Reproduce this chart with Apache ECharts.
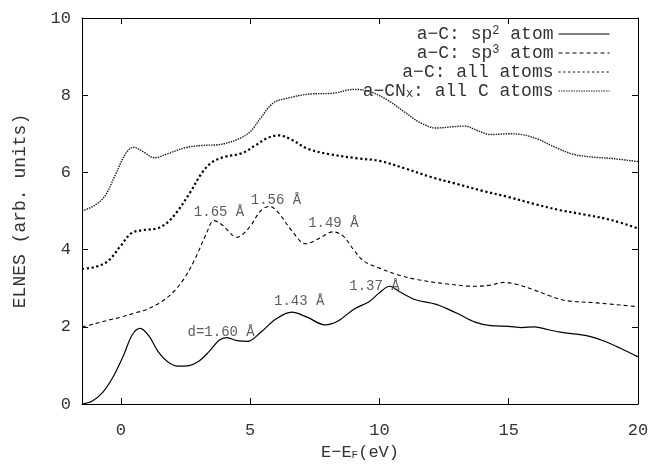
<!DOCTYPE html>
<html>
<head>
<meta charset="utf-8">
<script src="https://cdn.jsdelivr.net/npm/echarts@6/dist/echarts.min.js"></script>
<style>
  html, body { margin: 0; padding: 0; background: #fff; }
  #chart { width: 656px; height: 466px; }
</style>
</head>
<body>
<div id="chart"></div>
<script>
// curves, [E - EF (eV), ELNES]
const sp2Atom = [
    [-1.5, 0.0], [-1.1, 0.08], [-0.7, 0.3], [-0.3, 0.7], [0.1, 1.25], [0.45, 1.8],
    [0.75, 1.96], [1.1, 1.75], [1.45, 1.35], [1.8, 1.1], [2.2, 0.98], [2.6, 0.99],
    [3.0, 1.1], [3.4, 1.35], [3.8, 1.65], [4.1, 1.72], [4.5, 1.64], [4.9, 1.62],
    [5.4, 1.85], [6.0, 2.2], [6.6, 2.38], [7.2, 2.25], [7.9, 2.05], [8.4, 2.15],
    [9.0, 2.45], [9.6, 2.65], [10.0, 2.88], [10.4, 3.05], [10.8, 2.9], [11.4, 2.7],
    [12.2, 2.58], [13.0, 2.35], [13.7, 2.12], [14.3, 2.03], [15.0, 2.01], [15.5, 1.98],
    [16.0, 2.0], [16.5, 1.93], [17.0, 1.86], [18.0, 1.77], [18.6, 1.65], [19.3, 1.45],
    [20.0, 1.22]
];
const sp3Atom = [
    [-1.5, 2.0], [-1.0, 2.08], [-0.5, 2.17], [0.0, 2.25], [0.5, 2.35], [1.0, 2.45],
    [1.6, 2.66], [2.1, 2.95], [2.5, 3.3], [2.9, 3.8], [3.3, 4.4], [3.6, 4.75],
    [3.9, 4.65], [4.5, 4.32], [5.0, 4.6], [5.4, 5.0], [5.75, 5.12], [6.1, 4.95],
    [6.6, 4.5], [7.15, 4.15], [7.7, 4.3], [8.2, 4.46], [8.6, 4.35], [9.0, 4.0],
    [9.4, 3.7], [10.0, 3.52], [10.7, 3.35], [11.5, 3.22], [12.5, 3.12], [13.7, 3.05],
    [14.3, 3.08], [14.8, 3.15], [15.3, 3.1], [16.0, 2.95], [16.6, 2.8], [17.2, 2.68],
    [18.4, 2.62], [20.0, 2.52]
];
const allAtoms = [
    [-1.5, 3.5], [-1.0, 3.55], [-0.5, 3.7], [0.0, 4.1], [0.4, 4.42], [0.8, 4.5],
    [1.4, 4.55], [1.8, 4.7], [2.2, 5.0], [2.7, 5.5], [3.1, 5.95], [3.5, 6.25],
    [4.0, 6.4], [4.7, 6.5], [5.2, 6.7], [5.7, 6.9], [6.1, 6.96], [6.6, 6.85],
    [7.2, 6.62], [8.0, 6.48], [9.2, 6.36], [10.0, 6.3], [11.0, 6.1], [12.0, 5.88],
    [13.0, 5.7], [14.0, 5.52], [15.0, 5.36], [16.0, 5.18], [17.0, 5.02], [18.0, 4.9],
    [19.0, 4.76], [20.0, 4.55]
];
const cnxAllC = [
    [-1.5, 5.0], [-1.0, 5.15], [-0.6, 5.4], [-0.2, 5.95], [0.2, 6.5], [0.5, 6.65],
    [0.9, 6.52], [1.3, 6.38], [1.8, 6.48], [2.5, 6.64], [3.2, 6.7], [3.8, 6.72],
    [4.5, 6.85], [5.0, 7.05], [5.4, 7.4], [5.9, 7.8], [6.5, 7.93], [7.3, 8.03],
    [8.2, 8.05], [9.0, 8.15], [9.6, 8.1], [10.3, 7.88], [11.0, 7.55], [11.6, 7.28],
    [12.2, 7.15], [12.8, 7.18], [13.3, 7.2], [13.8, 7.08], [14.3, 6.98], [15.0, 7.0],
    [15.5, 6.98], [16.1, 6.87], [16.8, 6.65], [17.5, 6.47], [18.2, 6.4], [19.0, 6.36],
    [20.0, 6.28]
];

// bond length labels, placed in data coordinates
const bondLabels = ['d=1.60 Å', '1.43 Å', '1.37 Å', '1.65 Å', '1.56 Å', '1.49 Å'];
const bondLabelPos = [[3.88, 1.86], [6.9, 2.66], [9.81, 3.04], [3.8, 4.96], [6.0, 5.28], [8.22, 4.67]];

const seriesNames = ['sp2', 'sp3', 'all', 'cnx'];
const legendLabels = {
    sp2: 'a\u2212C: sp{sup|2} atom',
    sp3: 'a\u2212C: sp{sup|3} atom',
    all: 'a\u2212C: all atoms',
    cnx: 'a\u2212CN{sub|x}: all C atoms'
};
const xTicks = [0, 5, 10, 15, 20];

const FONT = '"Liberation Mono", "DejaVu Sans Mono", monospace';
const TEXT = '#333';

const chart = echarts.init(document.getElementById('chart'));

function curve(name, data, style) {
    return {
        name: name,
        type: 'line',
        data: data,
        smooth: 0.35,
        symbol: 'none',
        lineStyle: Object.assign({ color: '#000', width: 1.2 }, style),
        itemStyle: { color: '#000' },
        z: 3
    };
}

const frameAxis = {
    axisLine: { show: true, onZero: false, lineStyle: { color: '#000', width: 1 } },
    splitLine: { show: false }
};

const option = {
    animation: false,
    grid: { left: 82, right: 18, top: 18, bottom: 55 },
    legend: {
        data: seriesNames,
        orient: 'vertical',
        right: 41,
        top: 20,
        align: 'right',
        itemWidth: 51,
        itemHeight: 12,
        itemGap: 1,
        itemStyle: { opacity: 0 },
        lineStyle: { width: 1 },
        formatter: name => legendLabels[name],
        textStyle: {
            fontFamily: FONT, fontSize: 18, color: TEXT, lineHeight: 18,
            rich: {
                sup: { fontFamily: FONT, fontSize: 12, color: TEXT, verticalAlign: 'top', lineHeight: 12 },
                sub: { fontFamily: FONT, fontSize: 12, color: TEXT, verticalAlign: 'bottom', lineHeight: 12 }
            }
        }
    },
    xAxis: [
        Object.assign({
            type: 'value', min: -1.5, max: 20, position: 'bottom',
            name: 'E\u2212E{sub|F}(eV)', nameLocation: 'middle', nameGap: 40,
            nameTextStyle: {
                fontFamily: FONT, fontSize: 17, color: TEXT,
                rich: { sub: { fontFamily: FONT, fontSize: 11, color: TEXT, verticalAlign: 'bottom', lineHeight: 10 } }
            },
            axisTick: { show: true, inside: true, length: 6, customValues: xTicks, lineStyle: { color: '#000' } },
            axisLabel: { customValues: xTicks, fontFamily: FONT, fontSize: 17, color: TEXT, margin: 18 }
        }, frameAxis),
        Object.assign({
            type: 'value', min: -1.5, max: 20, position: 'top',
            axisTick: { show: true, inside: true, length: 6, customValues: xTicks, lineStyle: { color: '#000' } },
            axisLabel: { show: false }
        }, frameAxis)
    ],
    yAxis: [
        Object.assign({
            type: 'value', min: 0, max: 10, interval: 2, position: 'left',
            name: 'ELNES (arb. units)', nameLocation: 'middle', nameGap: 53,
            nameTextStyle: { fontFamily: FONT, fontSize: 18, color: TEXT },
            axisTick: { show: true, inside: true, length: 6, lineStyle: { color: '#000' } },
            axisLabel: { fontFamily: FONT, fontSize: 17, color: TEXT, margin: 11 }
        }, frameAxis),
        Object.assign({
            type: 'value', min: 0, max: 10, interval: 2, position: 'right',
            axisTick: { show: true, inside: true, length: 6, lineStyle: { color: '#000' } },
            axisLabel: { show: false }
        }, frameAxis)
    ],
    series: [
        curve('sp2', sp2Atom, { width: 1.2 }),
        curve('sp3', sp3Atom, { width: 1.1, type: [4, 3] }),
        curve('all', allAtoms, { width: 2.2, type: [2.2, 2.6] }),
        curve('cnx', cnxAllC, { width: 1.4, type: [1.5, 1], color: '#222' }),
        {
            name: 'labels',
            type: 'scatter',
            symbolSize: 0,
            data: bondLabels.map((t, i) => ({ name: t, value: bondLabelPos[i] })),
            label: {
                show: true, position: 'inside', formatter: '{b}',
                fontFamily: FONT, fontSize: 14, color: TEXT
            },
            z: 5
        }
    ]
};

chart.setOption(option);
</script>
</body>
</html>
